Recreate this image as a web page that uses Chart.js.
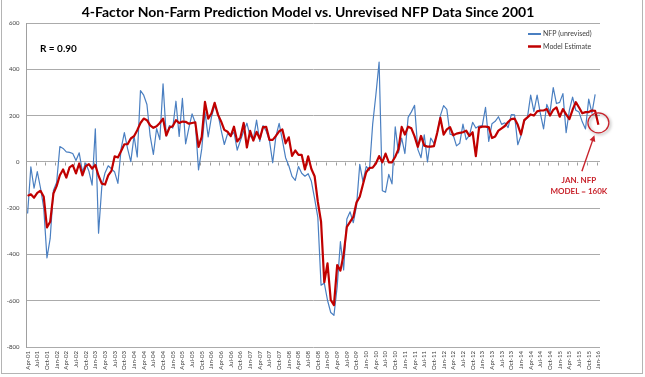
<!DOCTYPE html>
<html>
<head>
<meta charset="utf-8">
<script src="https://cdn.jsdelivr.net/npm/chart.js@4.4.1/dist/chart.umd.min.js"></script>
<style>
    html, body { margin: 0; padding: 0; background: #fff; }
    #wrap { position: relative; width: 645px; height: 377px; }
    #frame { position: absolute; left: 1px; top: -1px; width: 642px; height: 375px; border: 1px solid #b4b4b4; box-sizing: border-box; pointer-events: none; }
</style>
</head>
<body>
<div id="wrap">
    <canvas id="nfp-chart" width="645" height="377"></canvas>
    <div id="frame"></div>
</div>
<script>
const chartTitle = "4-Factor Non-Farm Prediction Model vs. Unrevised NFP Data Since 2001";
const correlation = "R = 0.90";
const callout = ["JAN. NFP", "MODEL = 160K"];

const monthNames = ["Jan", "Feb", "Mar", "Apr", "May", "Jun", "Jul", "Aug", "Sep", "Oct", "Nov", "Dec"];
const firstYear = 2001;
const firstMonth = 3; // Apr
const monthCount = 178; // Apr-01 .. Jan-16
const labelEvery = 3;

const yTicks = [-800, -600, -400, -200, 0, 200, 400, 600];

// first-print payrolls, thousands (Apr-01 .. Dec-15)
const nfpUnrevised = [
    -223, -22, -114, -42, -113, -199, -415, -331, -124,
    -89, 66, 58, 43, 41, 36, 6, 39, -43, -5, -40, -101,
    143, -308, -108, -48, -17, -30, -44, -93, 57, 126, 57, 1,
    112, 21, 308, 288, 248, 112, 32, 144, 96, 337, 112, 157,
    146, 262, 110, 274, 78, 146, 207, 169, -35, 56, 215, 108,
    193, 243, 211, 138, 75, 121, 113, 128, 51, 92, 132, 167,
    111, 97, 180, 88, 157, 132, 92, -4, 110, 166, 94, 18,
    -17, -63, -80, -20, -49, -62, -51, -84, -159, -240, -533, -524,
    -598, -651, -663, -539, -345, -467, -247, -216, -263, -190, -11, -85,
    -20, -36, 162, 290, 431, -125, -131, -54, -95, 151, 39, 103,
    36, 192, 216, 244, 54, 18, 117, 0, 103, 80, 120, 200,
    243, 227, 120, 115, 69, 80, 163, 96, 114, 171, 146, 155,
    157, 236, 88, 165, 175, 195, 162, 169, 148, 204, 203, 74,
    113, 175, 192, 288, 217, 288, 209, 142, 248, 214, 321, 252,
    257, 295, 126, 223, 280, 223, 215, 173, 142, 271, 211, 292
];

// model estimate, thousands (Apr-01 .. Jan-16)
const modelEstimate = [
    -147, -140, -155, -134, -125, -151, -283, -259, -137,
    -105, -58, -33, -68, -24, -14, -50, -7, -58, -19, -10, -29,
    -14, -60, -94, -98, -58, -39, 24, 19, 47, 76, 76, 101,
    111, 137, 168, 187, 180, 158, 147, 154, 168, 187, 114, 148,
    154, 180, 168, 174, 173, 165, 168, 171, 65, 108, 259, 187,
    209, 255, 205, 175, 138, 130, 111, 152, 88, 106, 168, 62,
    134, 92, 130, 100, 150, 151, 95, 95, 112, 132, 140, 80,
    106, 26, 49, 30, 30, -33, 24, -31, -62, -173, -259, -520,
    -439, -597, -619, -446, -470, -400, -281, -259, -238, -175, -151, -97,
    -45, -26, -25, -7, 25, -2, 36, -2, -2, 22, 55, 151,
    118, 152, 145, 110, 65, 112, 70, 66, 66, 68, 125, 190,
    118, 140, 150, 115, 122, 125, 128, 135, 112, 128, 25, 148,
    152, 152, 150, 103, 110, 135, 145, 155, 172, 185, 187, 160,
    118, 180, 192, 205, 200, 218, 222, 222, 228, 200, 225, 235,
    195, 228, 205, 185, 225, 258, 235, 210, 215, 215, 222, 220,
    160
];

const categories = [];
for (let k = 0; k < monthCount; k++) {
    const m = firstMonth + k;
    const yr = firstYear + Math.floor(m / 12);
    categories.push(monthNames[m % 12] + "-" + String(yr % 100).padStart(2, "0"));
}

(function () {
    "use strict";
    const blue = "#4a7fc1";
    const red = "#c00000";
    const calloutRed = "#c8232c";

    const extras = {
        id: "extras",
        beforeDatasetsDraw(chart) {
            const { ctx, scales: { x, y } } = chart;
            const half = (x.getPixelForValue(1) - x.getPixelForValue(0)) / 2;
            const y0 = Math.round(y.getPixelForValue(0)) + 0.5;
            ctx.save();
            ctx.strokeStyle = "#9c9c9c";
            ctx.lineWidth = 1;
            ctx.beginPath();
            for (let i = 0; i < categories.length; i += labelEvery) {
                const px = Math.round(x.getPixelForValue(i) - half) + 0.5;
                ctx.moveTo(px, y0);
                ctx.lineTo(px, y0 + 3);
            }
            ctx.stroke();
            ctx.restore();
        },
        afterDraw(chart) {
            const { ctx, scales: { x, y } } = chart;
            ctx.save();

            // title
            ctx.fillStyle = "#000";
            ctx.font = "bold 14px Lato";
            ctx.textAlign = "center";
            ctx.textBaseline = "middle";
            ctx.fillText(chartTitle, 308, 12);

            // R value
            ctx.font = "bold 10px Lato";
            ctx.textAlign = "left";
            ctx.fillText(correlation, 40, 49);

            // legend
            const order = [0, 1];
            order.forEach((k, n) => {
                const ds = chart.data.datasets[k];
                const ly = 34 + n * 12.5;
                ctx.strokeStyle = ds.borderColor;
                ctx.lineWidth = k === 0 ? 2 : 2.5;
                ctx.beginPath();
                ctx.moveTo(528, ly);
                ctx.lineTo(541, ly);
                ctx.stroke();
                ctx.fillStyle = "#404040";
                ctx.font = "7px Lato";
                ctx.textAlign = "left";
                ctx.fillText(ds.label, 543, ly);
            });

            // callout around last model value
            const last = modelEstimate.length - 1;
            const cx = x.getPixelForValue(last);
            const cy = y.getPixelForValue(modelEstimate[last]) - 2;
            ctx.save();
            ctx.shadowColor = "rgba(0,0,0,0.35)";
            ctx.shadowBlur = 3;
            ctx.shadowOffsetX = 1.5;
            ctx.shadowOffsetY = 1.5;
            ctx.strokeStyle = calloutRed;
            ctx.lineWidth = 1.3;
            ctx.beginPath();
            ctx.ellipse(cx, cy, 10.5, 10, 0, 0, Math.PI * 2);
            ctx.stroke();
            ctx.restore();

            // arrow
            const ax0 = cx - 16.5, ay0 = cy + 48.5;
            const ax1 = cx - 4, ay1 = cy + 12.5;
            const ang = Math.atan2(ay1 - ay0, ax1 - ax0);
            ctx.strokeStyle = calloutRed;
            ctx.fillStyle = calloutRed;
            ctx.lineWidth = 1.4;
            ctx.beginPath();
            ctx.moveTo(ax0, ay0);
            ctx.lineTo(ax1 - 4 * Math.cos(ang), ay1 - 4 * Math.sin(ang));
            ctx.stroke();
            ctx.beginPath();
            ctx.moveTo(ax1, ay1);
            ctx.lineTo(ax1 - 6 * Math.cos(ang) + 3 * Math.sin(ang), ay1 - 6 * Math.sin(ang) - 3 * Math.cos(ang));
            ctx.lineTo(ax1 - 6 * Math.cos(ang) - 3 * Math.sin(ang), ay1 - 6 * Math.sin(ang) + 3 * Math.cos(ang));
            ctx.closePath();
            ctx.fill();

            ctx.font = "bold 8px Lato";
            ctx.textAlign = "center";
            ctx.textBaseline = "middle";
            ctx.fillText(callout[0], cx - 19.5, cy + 57.5);
            ctx.fillText(callout[1], cx - 19.5, cy + 68.5);

            ctx.restore();
        }
    };

    const r = document.getElementById("nfp-chart").getContext("2d");
    new Chart(r, {
        type: "line",
        data: {
            labels: categories,
            datasets: [
                {
                    label: "NFP (unrevised)",
                    data: nfpUnrevised,
                    borderColor: blue,
                    backgroundColor: blue,
                    borderWidth: 1.2,
                    order: 1
                },
                {
                    label: "Model Estimate",
                    data: modelEstimate,
                    borderColor: red,
                    backgroundColor: red,
                    borderWidth: 2.2,
                    order: 0
                }
            ]
        },
        options: {
            responsive: false,
            animation: false,
            events: [],
            layout: { padding: { top: 23, right: 45, bottom: 0, left: 0 } },
            elements: {
                line: { tension: 0, borderJoinStyle: "round" },
                point: { radius: 0 }
            },
            plugins: {
                legend: { display: false },
                tooltip: { enabled: false },
                title: { display: false }
            },
            scales: {
                x: {
                    type: "category",
                    offset: true,
                    afterFit: s => { s.height = 30; },
                    grid: { display: false, drawTicks: false },
                    border: { display: false },
                    ticks: {
                        autoSkip: false,
                        minRotation: 90,
                        maxRotation: 90,
                        padding: 4,
                        font: { family: "Lato", size: 6 },
                        color: "#404040",
                        callback: function (v, i) {
                            return i % labelEvery === 0 ? this.getLabelForValue(v) : "";
                        }
                    }
                },
                y: {
                    min: yTicks[0],
                    max: yTicks[yTicks.length - 1],
                    afterFit: s => { s.width = 26; },
                    afterBuildTicks: s => { s.ticks = yTicks.map(v => ({ value: v })); },
                    grid: { color: "#ababab", lineWidth: 1, drawTicks: false },
                    border: { display: true, color: "#a0a0a0" },
                    ticks: {
                        padding: 6.5,
                        font: { family: "Lato", size: 6 },
                        color: "#404040"
                    }
                }
            }
        },
        plugins: [extras]
    });
})();
</script>
</body>
</html>
